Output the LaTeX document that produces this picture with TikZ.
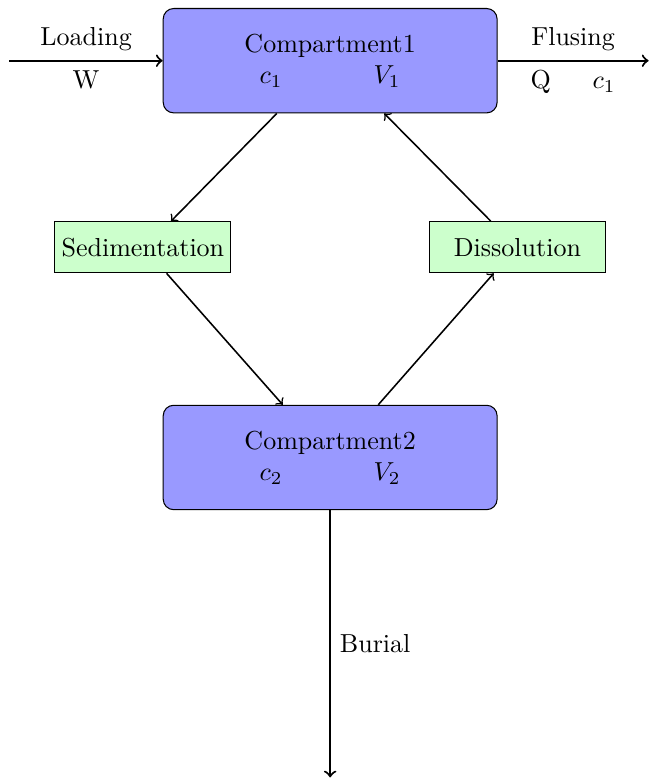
\documentclass[tikz,border=0pt]{standalone}
\usetikzlibrary{calc}

\begin{document}
\begin{tikzpicture}[compartment/.style={draw,rounded corners,fill=blue!40,minimum width=4.51cm,minimum height=1.41cm,align=center},process/.style={draw,fill=green!20,inner xsep=1pt,minimum width=2.38cm,minimum height=0.69cm},flow/.style={->,thick},exchange/.style={->,semithick}]
  \useasboundingbox (0,0) rectangle (8.76,-10.51);
  \node[compartment] (comp1) at (4.46,-0.82) {Compartment1\\$c_1$\hspace{35pt}$V_1$};
  \node[compartment] (comp2) at ($ (comp1) + (0,-5.36) $) {Compartment2\\$c_2$\hspace{35pt}$V_2$};
  \node[process] (sed) at ($ (comp1) + (-2.53,-2.52) $) {Sedimentation};
  \node[process] (dis) at ($ (comp1) + (2.53,-2.52) $) {Dissolution};
  \coordinate (inflow) at ($ (comp1.west) + (-2.07,0) $);
  \coordinate (outflow) at ($ (comp1.east) + (2.04,0) $);
  \coordinate (burial) at ($ (comp2.south) + (0,-3.61) $);
  \draw[flow] (inflow) -- node[above] {Loading} node[below] {W} (comp1);
  \draw[flow] (comp1) -- node[above] {Flusing} node[below] {Q\hspace{16pt}$c_1$} (outflow);
  \draw[flow] (comp2) -- node[right] {Burial} (burial);
  \draw[exchange] ($ (comp1.south) + (-0.72,0) $) -- ($ (sed.north) + (0.38,0) $);
  \draw[exchange] ($ (dis.north) + (-0.36,0) $) -- ($ (comp1.south) + (0.73,0) $);
  \draw[exchange] ($ (sed.south) + (0.32,0) $) -- ($ (comp2.north) + (-0.64,0) $);
  \draw[exchange] ($ (comp2.north) + (0.65,0) $) -- ($ (dis.south) + (-0.32,0) $);
\end{tikzpicture}
\end{document}
